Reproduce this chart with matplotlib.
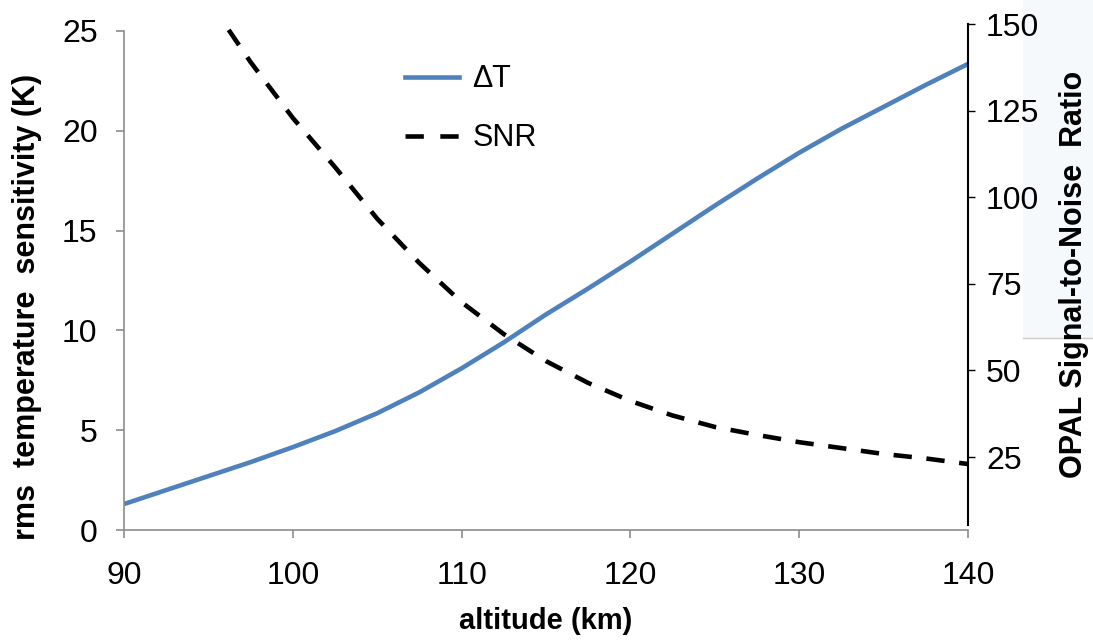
import matplotlib
matplotlib.use('Agg')
import matplotlib.pyplot as plt
from matplotlib.patches import Rectangle
from matplotlib.lines import Line2D

plt.rcParams['font.family'] = ['Liberation Sans', 'DejaVu Sans']

# altitude grid for rms temperature sensitivity (K)
alt_dt = [90, 92.5, 95, 97.5, 100, 102.5, 105, 107.5, 110, 112.5, 115,
          117.5, 120, 122.5, 125, 127.5, 130, 132.5, 135, 137.5, 140]
delta_t = [1.3, 2.0, 2.7, 3.4, 4.15, 4.95, 5.85, 6.9, 8.1, 9.4, 10.8,
           12.1, 13.45, 14.85, 16.25, 17.6, 18.9, 20.1, 21.2, 22.3, 23.35]

# altitude grid for OPAL signal-to-noise ratio
alt_snr = [96.2, 97.5, 100, 102.5, 105, 107.5, 110, 112.5, 115, 117.5,
           120, 122.5, 125, 127.5, 130, 132.5, 135, 137.5, 140]
snr = [148.3, 139.0, 122.9, 108.7, 93.8, 81.0, 69.7, 60.5, 52.7, 46.4,
       41.2, 37.0, 33.7, 31.4, 29.3, 27.6, 25.9, 24.6, 23.0]

x_ticks = [90, 100, 110, 120, 130, 140]
left_ticks = [0, 5, 10, 15, 20, 25]
right_ticks = [25, 50, 75, 100, 125, 150]

W, H = 1093, 641
fig = plt.figure(figsize=(W / 100, H / 100), dpi=100)

# faint leftover box at the right edge of the original image
fig.patches.append(Rectangle((1023 / W, 303 / H), 70 / W, 338 / H,
                             transform=fig.transFigure, facecolor='#f6f9fc',
                             edgecolor='none', zorder=-2))
fig.lines.append(Line2D([1023 / W, 1], [303 / H, 303 / H], transform=fig.transFigure,
                        color='#cccccc', lw=1, zorder=-1))

ax = fig.add_axes([124 / W, 111 / H, 844 / W, 499 / H])
ax2 = fig.add_axes([124 / W, 116 / H, 844 / W, 501 / H])
ax2.patch.set_visible(False)

gray = '#8c8c8c'
ax.plot(alt_dt, delta_t, color='#4f81bd', lw=3.3, solid_capstyle='butt')
ax.set_xlim(90, 140)
ax.set_ylim(0, 25)
ax.set_xticks(x_ticks)
ax.set_yticks(left_ticks)
for s in ['top', 'right']:
    ax.spines[s].set_visible(False)
for s in ['left', 'bottom']:
    ax.spines[s].set_color(gray)
    ax.spines[s].set_linewidth(1.2)
ax.tick_params(axis='y', direction='out', length=6, width=1.2, color=gray,
               labelsize=23, pad=13)
ax.tick_params(axis='x', direction='out', length=6, width=1.2, color=gray,
               labelsize=23, pad=16)
ax.set_xlabel('altitude (km)', fontsize=21, fontweight='bold', labelpad=12)
ax.set_ylabel('rms  temperature  sensitivity (K)', fontsize=22, fontweight='bold')
ax.yaxis.set_label_coords(-82 / 844, 0.447)

ax2.plot(alt_snr, snr, color='black', lw=3.3, dashes=(4, 3.2))
ax2.set_xlim(90, 140)
ax2.set_ylim(5.4, 150)
ax2.set_xticks([])
ax2.set_yticks(right_ticks)
for s in ['top', 'left', 'bottom']:
    ax2.spines[s].set_visible(False)
ax2.spines['right'].set_linewidth(1.5)
ax2.yaxis.tick_right()
ax2.yaxis.set_label_position('right')
ax2.tick_params(axis='y', direction='out', length=5, width=1, color='black',
                labelsize=23, pad=8)
ax2.set_ylabel('OPAL Signal-to-Noise  Ratio', fontsize=22, fontweight='bold',
               rotation=90, labelpad=14)

handles = [Line2D([], [], color='#4f81bd', lw=3.3),
           Line2D([], [], color='black', lw=3.3, dashes=(4, 3.6))]
fig.legend(handles, ['ΔT', 'SNR'], loc='upper left',
           bbox_to_anchor=(393 / W, 1 - 52 / H), frameon=False, fontsize=22,
           handlelength=1.75, handletextpad=0.45, labelspacing=0.95,
           borderaxespad=0)

fig.savefig('out.png', dpi=100)
